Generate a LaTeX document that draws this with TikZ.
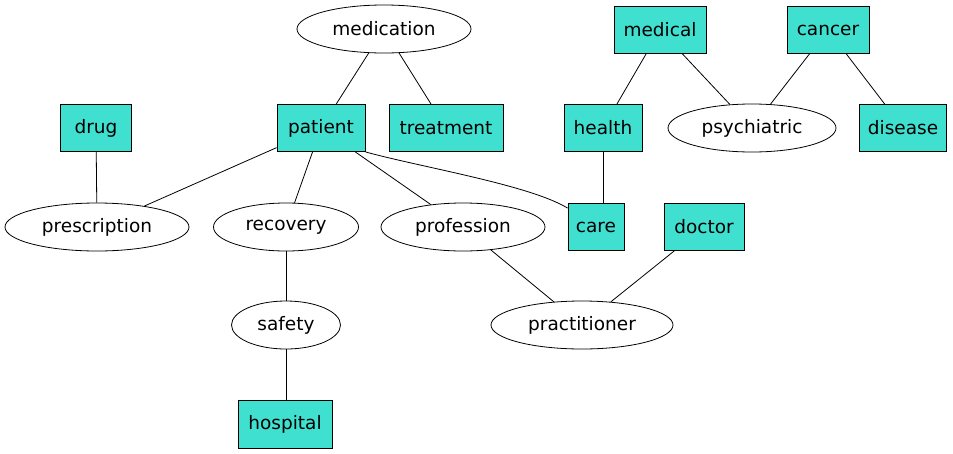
\documentclass[tikz,border=0pt]{standalone}
\usepackage{fontspec}
\setmainfont{DejaVu Sans}
\definecolor{turq1}{HTML}{40E0D0}
\usetikzlibrary{shapes.geometric, positioning, calc}

\begin{document}
\begin{tikzpicture}[x=1pt, y=-1pt, font=\fontsize{18.5}{21}\selectfont,
    box/.style={draw=black, fill=turq1, line width=0.8pt, inner sep=0pt, minimum height=47pt},
    oval/.style={draw=black, ellipse, line width=0.8pt, inner sep=0pt, minimum height=48pt},
    link/.style={draw=black, line width=0.8pt}]
  \useasboundingbox (0,0) rectangle (953,453);

  % top row
  \node[oval, minimum width=174pt] (medication) at (384,29) {medication};
  \node[box, minimum width=92pt] (medical) at (660,30) {medical};
  \node[box, minimum width=82pt] (cancer) at (828,30) {cancer};

  % second row
  \node[box, minimum width=71pt] (drug) at (96,128) {drug};
  \node[box, minimum width=88pt] (patient) at (321,128) {patient};
  \node[box, minimum width=114pt] (treatment) at (446,128) {treatment};
  \node[box, minimum width=78pt] (health) at (603,128) {health};
  \node[oval, minimum width=168pt] (psychiatric) at (752,128) {psychiatric};
  \node[box, minimum width=87pt] (disease) at (903,128) {disease};

  % third row
  \node[oval, minimum width=184pt] (prescription) at (97,227) {prescription};
  \node[oval, minimum width=145pt] (recovery) at (286,227) {recovery};
  \node[oval, minimum width=164pt] (profession) at (463,227) {profession};
  \node[box, minimum width=56pt] (care) at (596,227) {care};
  \node[box, minimum width=80pt] (doctor) at (704,227) {doctor};

  % bottom rows
  \node[oval, minimum width=109pt] (safety) at (286,325) {safety};
  \node[oval, minimum width=182pt] (practitioner) at (582,325) {practitioner};
  \node[box, minimum width=94pt, minimum height=48pt] (hospital) at (285,424) {hospital};

  % edges
  \draw[link] (medication) -- (patient);
  \draw[link] (medication) -- (treatment);
  \draw[link] (medical) -- (health);
  \draw[link] (medical) -- (psychiatric);
  \draw[link] (cancer) -- (psychiatric);
  \draw[link] (cancer) -- (disease);
  \draw[link] (drug) -- (prescription);
  \draw[link] (patient) -- (prescription);
  \draw[link] (patient) -- (recovery);
  \draw[link] (patient) -- (profession);
  \draw[link] (patient.south east) .. controls (420,167) and (530,185) .. ([yshift=-5pt]care.north west);
  \draw[link] (health) -- (health |- care.north);
  \draw[link] (recovery) -- (safety);
  \draw[link] (safety) -- (safety |- hospital.north);
  \draw[link] (profession) -- (practitioner);
  \draw[link] (doctor) -- (practitioner);
\end{tikzpicture}
\end{document}
